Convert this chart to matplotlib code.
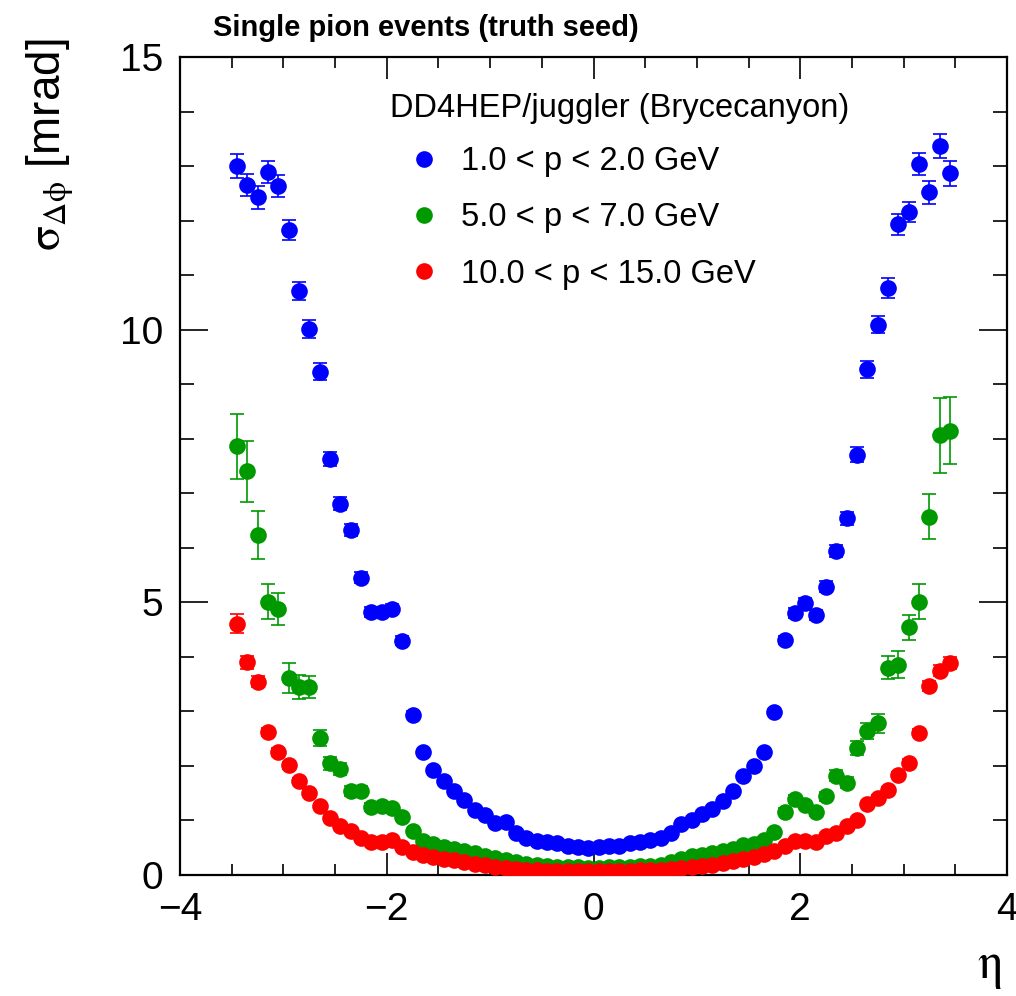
import numpy as np
import matplotlib
matplotlib.use("Agg")
import matplotlib.pyplot as plt
from matplotlib.ticker import MultipleLocator


# eta binning: 70 bins of width 0.1 between -3.5 and 3.5
ETA_EDGES = np.linspace(-3.5, 3.5, 71)
ETA = 0.5 * (ETA_EDGES[:-1] + ETA_EDGES[1:])

# sigma(dphi) [mrad], 1.0 < p < 2.0 GeV
SIGMA_P1 = [
    13.00, 12.66, 12.43, 12.89, 12.63, 11.83, 10.71, 10.01, 9.23, 7.63,
    6.81, 6.33, 5.45, 4.83, 4.83, 4.88, 4.30, 2.94, 2.25, 1.93,
    1.72, 1.54, 1.37, 1.19, 1.10, 0.95, 0.97, 0.77, 0.67, 0.63,
    0.60, 0.59, 0.54, 0.51, 0.50, 0.52, 0.54, 0.54, 0.58, 0.61,
    0.65, 0.67, 0.77, 0.93, 1.01, 1.12, 1.21, 1.36, 1.54, 1.82,
    1.99, 2.25, 2.99, 4.31, 4.80, 4.99, 4.77, 5.29, 5.94, 6.54,
    7.71, 9.27, 10.09, 10.76, 11.93, 12.16, 13.04, 12.52, 13.36, 12.87,
]
ERR_P1 = [
    0.22, 0.20, 0.21, 0.20, 0.20, 0.19, 0.17, 0.16, 0.15, 0.13,
    0.12, 0.11, 0.10, 0.09, 0.09, 0.09, 0.08, 0.06, 0.05, 0.04,
    0.04, 0.03, 0.03, 0.03, 0.03, 0.02, 0.02, 0.02, 0.02, 0.02,
    0.02, 0.02, 0.02, 0.02, 0.02, 0.02, 0.02, 0.02, 0.02, 0.02,
    0.02, 0.02, 0.02, 0.02, 0.03, 0.03, 0.03, 0.03, 0.03, 0.04,
    0.04, 0.05, 0.06, 0.08, 0.09, 0.09, 0.09, 0.10, 0.11, 0.12,
    0.13, 0.15, 0.16, 0.18, 0.20, 0.19, 0.20, 0.21, 0.22, 0.23,
]

# sigma(dphi) [mrad], 5.0 < p < 7.0 GeV
SIGMA_P5 = [
    7.86, 7.40, 6.23, 5.01, 4.88, 3.61, 3.45, 3.45, 2.51, 2.05,
    1.95, 1.54, 1.54, 1.25, 1.27, 1.22, 1.07, 0.80, 0.62, 0.57,
    0.52, 0.48, 0.44, 0.40, 0.35, 0.31, 0.27, 0.23, 0.20, 0.18,
    0.16, 0.15, 0.14, 0.14, 0.13, 0.13, 0.14, 0.14, 0.15, 0.16,
    0.17, 0.19, 0.23, 0.30, 0.34, 0.37, 0.40, 0.44, 0.48, 0.55,
    0.57, 0.65, 0.79, 1.16, 1.39, 1.29, 1.16, 1.44, 1.82, 1.69,
    2.33, 2.64, 2.78, 3.80, 3.86, 4.54, 5.01, 6.57, 8.06, 8.15,
]
ERR_P5 = [
    0.59, 0.56, 0.44, 0.32, 0.30, 0.28, 0.22, 0.20, 0.15, 0.12,
    0.11, 0.09, 0.09, 0.07, 0.07, 0.07, 0.06, 0.05, 0.04, 0.03,
    0.03, 0.03, 0.02, 0.02, 0.02, 0.02, 0.01, 0.01, 0.01, 0.01,
    0.01, 0.01, 0.01, 0.01, 0.01, 0.01, 0.01, 0.01, 0.01, 0.01,
    0.01, 0.01, 0.01, 0.02, 0.02, 0.02, 0.02, 0.03, 0.03, 0.03,
    0.03, 0.04, 0.05, 0.06, 0.07, 0.07, 0.07, 0.08, 0.10, 0.10,
    0.13, 0.15, 0.17, 0.21, 0.24, 0.23, 0.32, 0.41, 0.69, 0.61,
]

# sigma(dphi) [mrad], 10.0 < p < 15.0 GeV
SIGMA_P10 = [
    4.61, 3.90, 3.54, 2.62, 2.25, 2.01, 1.72, 1.50, 1.26, 1.05,
    0.90, 0.81, 0.67, 0.61, 0.61, 0.65, 0.51, 0.43, 0.37, 0.33,
    0.30, 0.27, 0.24, 0.21, 0.18, 0.15, 0.13, 0.11, 0.10, 0.09,
    0.08, 0.08, 0.08, 0.07, 0.07, 0.07, 0.07, 0.08, 0.08, 0.09,
    0.09, 0.10, 0.11, 0.13, 0.15, 0.17, 0.19, 0.22, 0.25, 0.29,
    0.33, 0.38, 0.44, 0.54, 0.63, 0.62, 0.60, 0.72, 0.77, 0.90,
    1.01, 1.30, 1.42, 1.56, 1.83, 2.06, 2.61, 3.47, 3.75, 3.89,
]
ERR_P10 = [
    0.18, 0.12, 0.10, 0.08, 0.07, 0.06, 0.05, 0.05, 0.04, 0.04,
    0.03, 0.03, 0.03, 0.02, 0.02, 0.02, 0.02, 0.02, 0.01, 0.01,
    0.01, 0.01, 0.01, 0.01, 0.01, 0.01, 0.01, 0.01, 0.01, 0.01,
    0.01, 0.01, 0.01, 0.01, 0.01, 0.01, 0.01, 0.01, 0.01, 0.01,
    0.01, 0.01, 0.01, 0.01, 0.01, 0.01, 0.01, 0.01, 0.01, 0.01,
    0.01, 0.01, 0.02, 0.02, 0.02, 0.02, 0.02, 0.02, 0.03, 0.03,
    0.03, 0.04, 0.04, 0.05, 0.05, 0.06, 0.07, 0.09, 0.10, 0.11,
]

SERIES = [
    (SIGMA_P1, ERR_P1, "#0000ff", "1.0 < p < 2.0 GeV"),
    (SIGMA_P5, ERR_P5, "#009900", "5.0 < p < 7.0 GeV"),
    (SIGMA_P10, ERR_P10, "#ff0000", "10.0 < p < 15.0 GeV"),
]

W, H = 1016, 996

plt.rcParams["font.family"] = ["Liberation Sans", "DejaVu Sans"]
plt.rcParams["mathtext.fontset"] = "stix"


def px_box(left, top, right, bottom):
    return [left / W, 1 - bottom / H, (right - left) / W, (bottom - top) / H]


def main():
    fig = plt.figure(figsize=(W / 100, H / 100), dpi=100)
    ax = fig.add_axes(px_box(180, 57, 1007, 875))

    handles = []
    labels = []
    for values, errors, color, label in SERIES:
        cont = ax.errorbar(
            ETA, values, yerr=errors,
            fmt="o", color=color, markersize=12,
            elinewidth=1.2, capsize=5, capthick=1.2,
            zorder=3,
        )
        # filled circles without an outline, caps keep their own width
        cont[0].set_markeredgewidth(0)
        handles.append(cont[0])
        labels.append(label)

    ax.set_xlim(-4, 4)
    ax.set_ylim(0, 15)
    ax.xaxis.set_major_locator(MultipleLocator(2))
    ax.xaxis.set_minor_locator(MultipleLocator(0.5))
    ax.yaxis.set_major_locator(MultipleLocator(5))
    ax.yaxis.set_minor_locator(MultipleLocator(1))

    ax.tick_params(which="both", direction="in", top=True, right=True,
                   width=1.2, colors="black", labelsize=28)
    ax.tick_params(axis="x", which="major", length=16, pad=12)
    ax.tick_params(axis="x", which="minor", length=8)
    ax.tick_params(axis="y", which="major", length=20, pad=12)
    ax.tick_params(axis="y", which="minor", length=10)
    for spine in ax.spines.values():
        spine.set_linewidth(1.6)

    fig.text(213 / W, 1 - 36 / H, "Single pion events (truth seed)",
             fontsize=21, fontweight="bold", ha="left", va="baseline")

    fig.text(50 / W, 1 - 38 / H, r"$\mathrm{\sigma_{\Delta\phi}}$ [mrad]",
             fontsize=33, rotation=90, ha="center", va="top")
    fig.text(1002 / W, 1 - 968 / H, r"$\mathrm{\eta}$",
             fontsize=36, ha="right", va="center")

    ax.text(390 / W, 1 - 108 / H, "DD4HEP/juggler (Brycecanyon)",
            transform=fig.transFigure, fontsize=23.5, ha="left", va="center")

    ax.legend(
        handles=handles,
        labels=labels,
        loc="upper left",
        bbox_to_anchor=(408 / W, 1 - 146 / H),
        bbox_transform=fig.transFigure,
        frameon=False,
        fontsize=23.5,
        handlelength=1.0,
        handletextpad=0.63,
        labelspacing=0.78,
        borderpad=0,
        borderaxespad=0,
    )

    fig.savefig("out.png", dpi=100)


if __name__ == "__main__":
    main()
